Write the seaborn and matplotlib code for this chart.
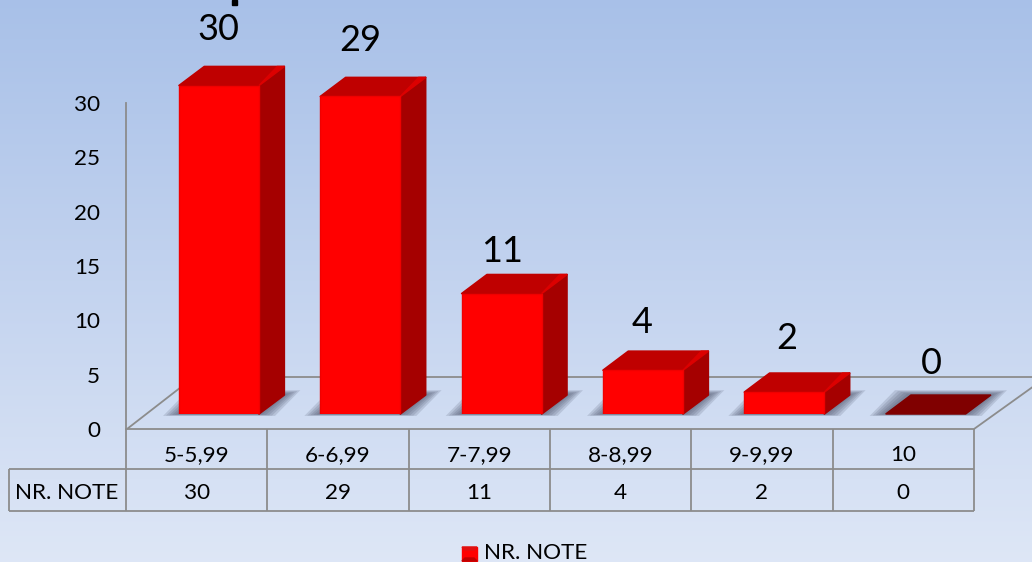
"""Grade distribution chart: fake-3D red columns with a data table below."""
import numpy as np
import pandas as pd
import matplotlib
matplotlib.use("Agg")
import matplotlib.pyplot as plt
from matplotlib.patches import Polygon, Rectangle
import seaborn as sns

# data
CATEGORIES = ["5-5,99", "6-6,99", "7-7,99", "8-8,99", "9-9,99", "10"]
VALUES = [30, 29, 11, 4, 2, 0]
SERIES_NAME = "NR. NOTE"
Y_TICKS = [0, 5, 10, 15, 20, 25, 30]

# figure size in px, everything below is laid out in px
W, H = 1032, 562
RED = "#ff0000"
TOP = "#bf0000"
TOP_EDGE = "#dc0000"
SIDE = "#a50000"
EMPTY = "#800000"
LINE = "#8c8c8c"
TEXT = "#000000"
FS = 16.2
LABEL_DY = [56, 56, 42, 48, 54, 51]   # value label height above the bar
LABEL_DX = [-1, 0, 0, -1, 2, 6]

sns.set_theme(style="white")
plt.rcParams["font.family"] = ["Lato", "DejaVu Sans"]


def px_axes(fig, left, top, right, bottom):
    """Axes from pixel edges, y measured from the top of the figure."""
    return fig.add_axes([left / W, 1 - bottom / H, (right - left) / W, (bottom - top) / H])


fig = plt.figure(figsize=(W / 100, H / 100), dpi=100)

# background in px coordinates: gradient, floor, table grid
bg = px_axes(fig, 0, 0, W, H)
stops = np.array([[0.66, 0.755, 0.91], [0.775, 0.835, 0.94], [0.87, 0.905, 0.965]])
t = np.linspace(0, 1, 256)
grad = np.stack([np.interp(t, [0, 0.55, 1], stops[:, c]) for c in range(3)], axis=1)[:, None, :]
bg.imshow(grad, extent=(0, W, H, 0), aspect="auto", zorder=0)
bg.set_xlim(0, W)
bg.set_ylim(H, 0)
bg.axis("off")

line_kw = dict(color=LINE, lw=1.3, zorder=1, solid_capstyle="butt")
bg.plot([127, 194, W], [429, 377, 377], **line_kw)
bg.plot([974, 1034], [429, 386], **line_kw)
col_x = np.linspace(126, 974, len(CATEGORIES) + 1)
for x in col_x:
    bg.plot([x, x], [429, 511], **line_kw)
bg.plot([9, 974], [469, 469], **line_kw)
bg.plot([9, 974], [511, 511], **line_kw)
bg.plot([9, 9], [469, 511], **line_kw)
bg.add_patch(Rectangle((232, 0), 5, 5, color="black", zorder=1))   # stub of the cropped title

# axis frame: y axis and front floor edge
frame = px_axes(fig, 126, 103, 974, 429)
frame.patch.set_alpha(0)
frame.set_xlim(-0.5, len(CATEGORIES) - 0.5)
frame.set_ylim(0, 30)
frame.set_yticks(Y_TICKS)
frame.set_xticks(range(len(CATEGORIES)))
frame.set_xticklabels(CATEGORIES)
frame.tick_params(axis="y", length=0, pad=18.5, labelsize=FS, labelcolor=TEXT)
frame.tick_params(axis="x", length=0, pad=11.5, labelsize=FS, labelcolor=TEXT)
for side in ["top", "right"]:
    frame.spines[side].set_visible(False)
for side in ["left", "bottom"]:
    frame.spines[side].set_color(LINE)
    frame.spines[side].set_linewidth(1.3)

# table values and legend
centers = (col_x[:-1] + col_x[1:]) / 2
for x, v in zip(centers, VALUES):
    bg.text(x, 493, str(v), ha="center", va="center", fontsize=FS, color=TEXT, zorder=2)
bg.text(67, 493, SERIES_NAME, ha="center", va="center", fontsize=FS, color=TEXT, zorder=2)
bg.text(484, 553, SERIES_NAME, ha="left", va="center", fontsize=FS, color=TEXT, zorder=2)
bg.add_patch(Rectangle((462, 547), 15, 14, color=RED, zorder=2))
bg.add_patch(Polygon([(462, 547), (477, 547), (474, 550), (465, 550)], color="#e01010", zorder=3))
bg.add_patch(Polygon([(462, 561), (477, 561), (474, 558), (465, 558)], color="#c00000", zorder=3))

# bars: front faces come from seaborn, one unit of y is 10.95 px
SPACING = (974 - 126) / len(CATEGORIES)
PX_Y = 10.95
bars = px_axes(fig, 219 - SPACING / 2, 414 - 33 * PX_Y, 219 + 5.5 * SPACING, 414)
bars.patch.set_alpha(0)
df = pd.DataFrame({"cat": CATEGORIES, "n": VALUES})
sns.barplot(data=df, x="cat", y="n", order=CATEGORIES, color=RED, saturation=1,
            width=80 / SPACING, ax=bars, zorder=3)
bars.set_xlim(-0.5, len(CATEGORIES) - 0.5)
bars.set_ylim(0, 33)
bars.axis("off")

# depth of the fake 3D in data units
DX = 25.3 / SPACING
DY = 19 / PX_Y
round_kw = dict(lw=1.2, joinstyle="round", clip_on=False)
for i, bar in enumerate(list(bars.patches)):
    x0, x1 = bar.get_x(), bar.get_x() + bar.get_width()
    h = bar.get_height()
    # soft floor shadow, stacked parallelograms getting tighter
    for e in [16, 13, 10, 7, 4, 1]:
        ex = e / SPACING
        y0 = -e * 0.12 / PX_Y
        y1 = DY + e * 0.3 / PX_Y
        bars.add_patch(Polygon([(x0 - ex, y0), (x1 + ex, y0), (x1 + ex + DX, y1), (x0 - ex + DX, y1)],
                               facecolor=(0.3, 0.33, 0.42), alpha=0.18, lw=0, zorder=1, clip_on=False))
    if h == 0:
        bar.set_visible(False)
        bars.add_patch(Polygon([(x0, 0), (x1, 0), (x1 + DX, DY), (x0 + DX, DY)],
                               color=EMPTY, zorder=2, clip_on=False))
    else:
        bar.set_edgecolor("#f00000")
        bar.set_linewidth(1.0)
        bar.set_joinstyle("round")
        bars.add_patch(Polygon([(x1, 0), (x1 + DX, DY), (x1 + DX, h + DY), (x1, h)],
                               color=SIDE, zorder=2, **round_kw))
        bars.add_patch(Polygon([(x0, h), (x1, h), (x1 + DX, h + DY), (x0 + DX, h + DY)],
                               color=TOP, zorder=2, **round_kw))
        bars.add_patch(Polygon([(x1, h), (x1 + DX, h + DY), (x1 + DX - 7 / SPACING, h + DY)],
                               color=TOP_EDGE, zorder=2, clip_on=False))
    bars.annotate(str(VALUES[i]), (i, h), xytext=(LABEL_DX[i] * 0.72, LABEL_DY[i] * 0.72),
                  textcoords="offset points", ha="center", va="center",
                  fontsize=26, color=TEXT, annotation_clip=False, zorder=5)

fig.savefig("out.png", dpi=100)
plt.close(fig)
